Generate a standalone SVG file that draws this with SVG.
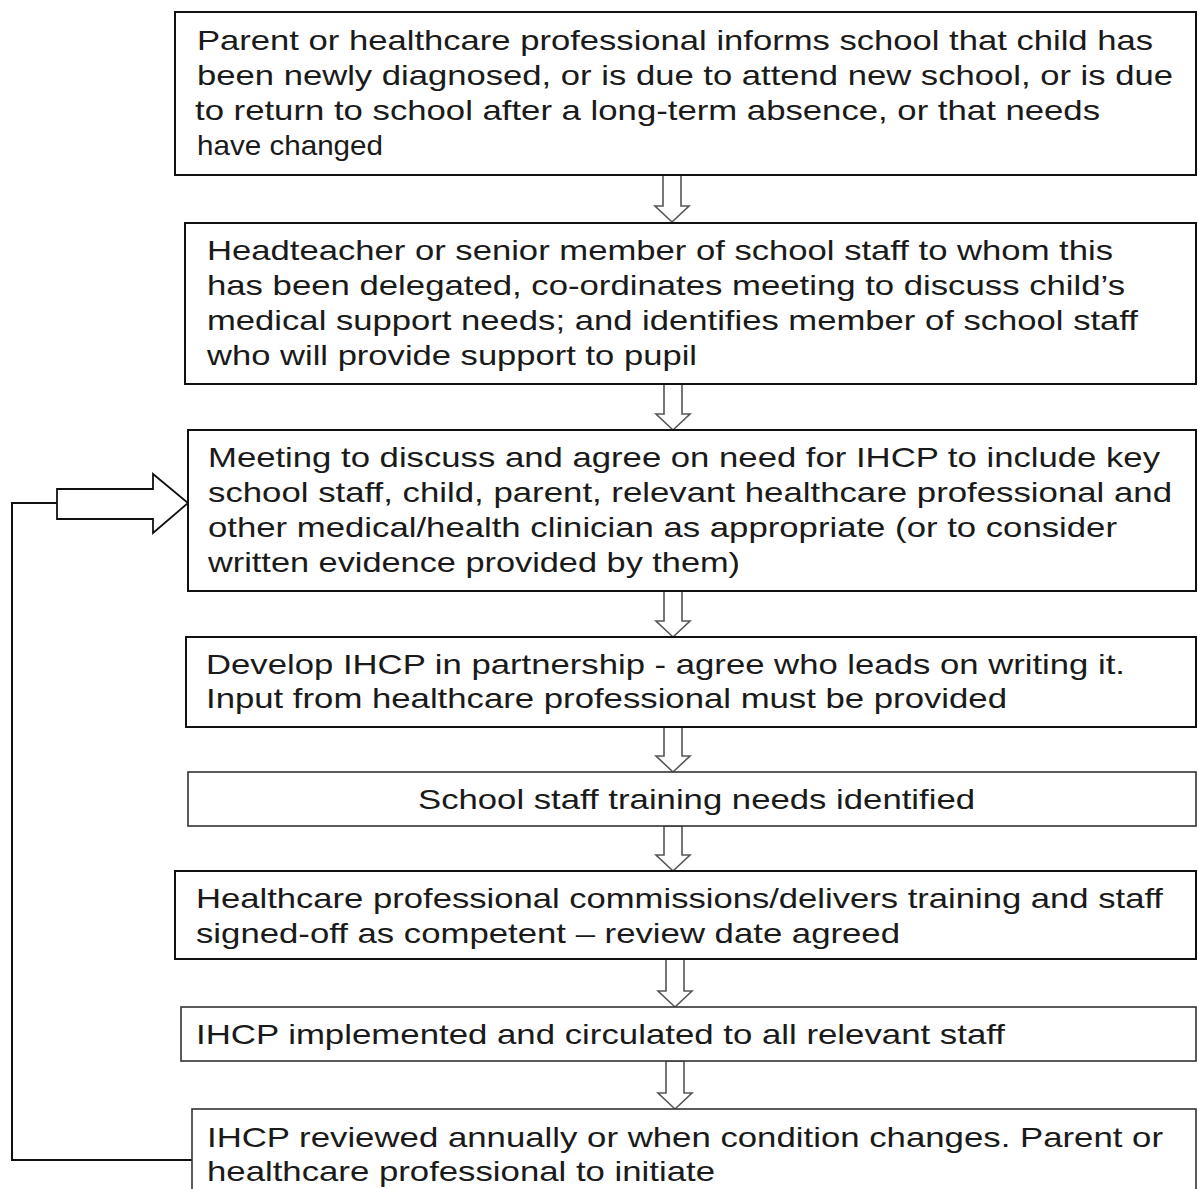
<svg xmlns="http://www.w3.org/2000/svg" width="1198" height="1189" viewBox="0 0 1198 1189">
  <style>
    .box { fill: #ffffff; stroke: #111111; stroke-width: 2; }
    .box.thin { stroke: #333333; stroke-width: 1.6; }
    .txt { font-family: "Liberation Sans", Arial, sans-serif; font-size: 28px; fill: #1a1a1a; }
    .down { fill: #ffffff; stroke: #555555; stroke-width: 1.6; stroke-linejoin: miter; }
    .loop { fill: none; stroke: #111111; stroke-width: 2; }
    .side { fill: #ffffff; stroke: #111111; stroke-width: 1.8; }
  </style>
  <rect width="1198" height="1189" fill="#ffffff"/>

  <!-- connectors: block arrows between steps and the review loop -->
  <g id="connectors">
    <polygon class="down" points="663,175 663,206 655,206 672,222 689,206 681,206 681,175"/>
    <polygon class="down" points="664,384 664,414 656,414 673,430 690,414 682,414 682,384"/>
    <polygon class="down" points="664,591 664,621 656,621 673,637 690,621 682,621 682,591"/>
    <polygon class="down" points="664,727 664,756 656,756 673,772 690,756 682,756 682,727"/>
    <polygon class="down" points="664,826 664,855 656,855 673,871 690,855 682,855 682,826"/>
    <polygon class="down" points="666,959 666,991 658,991 675,1007 692,991 684,991 684,959"/>
    <polygon class="down" points="666,1061 666,1093 658,1093 675,1109 692,1093 684,1093 684,1061"/>
    <path class="loop" d="M192,1160 H12 V503 H57"/>
    <path class="side" d="M57,489 H153 V474 L188,503 L153,533 V519 H57 Z"/>
  </g>

  <g id="step1">
    <rect class="box" x="175" y="12" width="1021" height="163"/>
    <text class="txt" x="197" y="50" textLength="956" lengthAdjust="spacingAndGlyphs">Parent or healthcare professional informs school that child has</text>
    <text class="txt" x="197" y="85" textLength="976" lengthAdjust="spacingAndGlyphs">been newly diagnosed, or is due to attend new school, or is due</text>
    <text class="txt" x="195" y="120" textLength="905" lengthAdjust="spacingAndGlyphs">to return to school after a long-term absence, or that needs</text>
    <text class="txt" x="197" y="155" textLength="186" lengthAdjust="spacingAndGlyphs">have changed</text>
  </g>

  <g id="step2">
    <rect class="box" x="185" y="223" width="1011" height="161"/>
    <text class="txt" x="207" y="260" textLength="906" lengthAdjust="spacingAndGlyphs">Headteacher or senior member of school staff to whom this</text>
    <text class="txt" x="207" y="295" textLength="918" lengthAdjust="spacingAndGlyphs">has been delegated, co-ordinates meeting to discuss child’s</text>
    <text class="txt" x="207" y="330" textLength="931" lengthAdjust="spacingAndGlyphs">medical support needs; and identifies member of school staff</text>
    <text class="txt" x="207" y="365" textLength="490" lengthAdjust="spacingAndGlyphs">who will provide support to pupil</text>
  </g>

  <g id="step3">
    <rect class="box" x="188" y="430" width="1008" height="161"/>
    <text class="txt" x="208" y="467" textLength="952" lengthAdjust="spacingAndGlyphs">Meeting to discuss and agree on need for IHCP to include key</text>
    <text class="txt" x="208" y="502" textLength="964" lengthAdjust="spacingAndGlyphs">school staff, child, parent, relevant healthcare professional and</text>
    <text class="txt" x="208" y="537" textLength="909" lengthAdjust="spacingAndGlyphs">other medical/health clinician as appropriate (or to consider</text>
    <text class="txt" x="208" y="572" textLength="532" lengthAdjust="spacingAndGlyphs">written evidence provided by them)</text>
  </g>

  <g id="step4">
    <rect class="box" x="186" y="637" width="1010" height="90"/>
    <text class="txt" x="206" y="674" textLength="919" lengthAdjust="spacingAndGlyphs">Develop IHCP in partnership - agree who leads on writing it.</text>
    <text class="txt" x="206" y="708" textLength="801" lengthAdjust="spacingAndGlyphs">Input from healthcare professional must be provided</text>
  </g>

  <g id="step5">
    <rect class="box thin" x="188" y="772" width="1008" height="54"/>
    <text class="txt" x="418" y="809" textLength="557" lengthAdjust="spacingAndGlyphs">School staff training needs identified</text>
  </g>

  <g id="step6">
    <rect class="box" x="175" y="871" width="1021" height="88"/>
    <text class="txt" x="196" y="908" textLength="967" lengthAdjust="spacingAndGlyphs">Healthcare professional commissions/delivers training and staff</text>
    <text class="txt" x="196" y="943" textLength="704" lengthAdjust="spacingAndGlyphs">signed-off as competent – review date agreed</text>
  </g>

  <g id="step7">
    <rect class="box thin" x="181" y="1007" width="1015" height="54"/>
    <text class="txt" x="196" y="1044" textLength="809" lengthAdjust="spacingAndGlyphs">IHCP implemented and circulated to all relevant staff</text>
  </g>

  <g id="step8">
    <rect class="box thin" x="192" y="1109" width="1004" height="95"/>
    <text class="txt" x="207" y="1147" textLength="956" lengthAdjust="spacingAndGlyphs">IHCP reviewed annually or when condition changes. Parent or</text>
    <text class="txt" x="207" y="1181" textLength="508" lengthAdjust="spacingAndGlyphs">healthcare professional to initiate</text>
  </g>
</svg>
